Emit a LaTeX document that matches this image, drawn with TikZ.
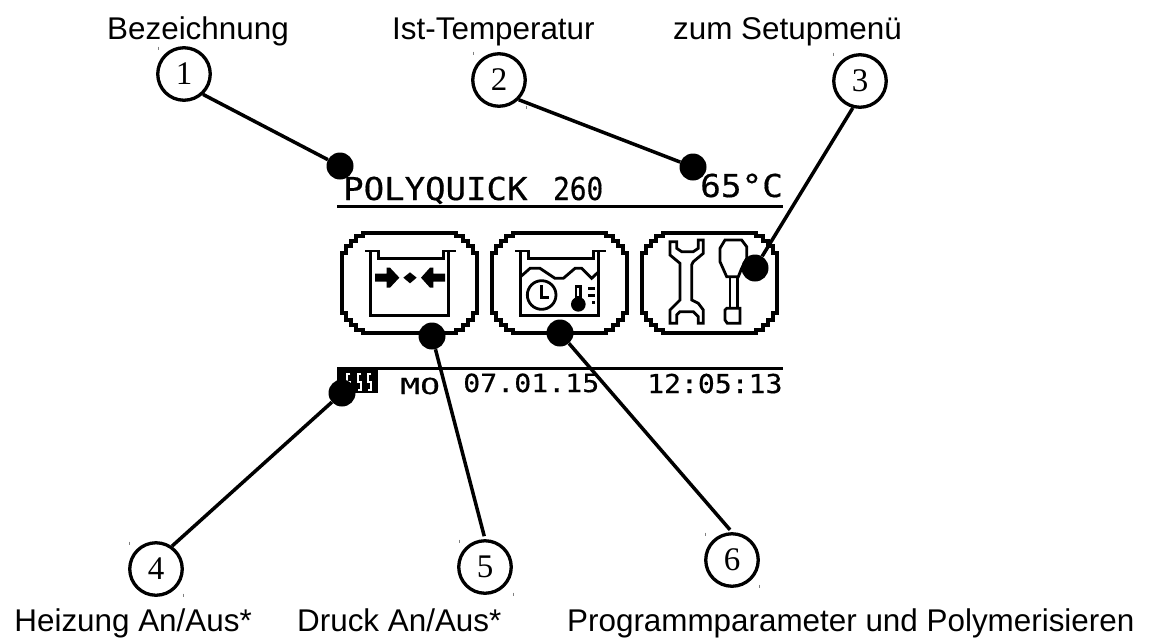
\documentclass[tikz,border=0pt]{standalone}
\usepackage{fontspec}
\setmainfont{Liberation Sans}
\newfontfamily\numfont{Liberation Serif}
\newfontfamily\lcdfont[FakeBold=0.5]{DejaVu Sans Mono}
\newcommand\lcdsize[1]{\lcdfont\fontsize{#1}{#1}\selectfont}
\tikzset{
  caption/.style={font=\fontsize{31.4}{36}\selectfont,inner sep=0pt,anchor=base west,text=black},
  numcircle/.style={circle,draw=black,line width=3.3pt,minimum size=52.5pt,inner sep=0pt,font=\numfont\fontsize{33}{36}\selectfont,fill=white},
  blackdot/.style={circle,fill=black,minimum size=27pt,inner sep=0pt},
  leader/.style={line width=3.5pt,draw=black},
  lcdtext/.style={inner sep=0pt,anchor=base west,text=black},
  lcdline/.style={line width=3pt,draw=black,line join=miter},
  iconline/.style={line width=2.8pt,draw=black,line join=miter},
  ticksign/.style={line width=0.7pt,draw=gray},
}
\newcommand\lcdframe[1]{%
  \draw[lcdline,line width=3.6pt,shift={(#1,233)}]
    (21,0)--(114,0)--(114,3)--(121,3)--(121,8)--(126,8)--(126,13)--(131,13)--(131,20)--(135,20)
    --(135,80)--(131,80)--(131,87)--(126,87)--(126,92)--(121,92)--(121,97)--(114,97)--(114,100)
    --(21,100)--(21,97)--(14,97)--(14,92)--(9,92)--(9,87)--(4,87)--(4,80)--(0,80)
    --(0,20)--(4,20)--(4,13)--(9,13)--(9,8)--(14,8)--(14,3)--(21,3)--cycle;}
\newcommand\basin{%
  \draw[iconline] (105,78)--(145,78)--(145,100)--(340,100)--(340,78)--(378,78);
  \draw[iconline] (122,78)--(122,272)--(356,272)--(356,78);}
\begin{document}
\begin{tikzpicture}[x=1pt,y=-1pt]
\useasboundingbox (0,0) rectangle (1152,638);
\fill[white] (0,0) rectangle (1152,638);

% captions
\node[caption] (tBez) at (107,39) {Bezeichnung};
\node[caption] (tIst) at (392,39) {Ist-Temperatur};
\node[caption] (tSetup) at (673,39) {zum Setupmenü};
\node[caption,anchor=base east] (tHeiz) at (252,631) {Heizung An/Aus*};
\node[caption] (tDruck) at (297,631) {Druck An/Aus*};
\node[caption] (tProg) at (567,631) {Programmparameter und Polymerisieren};

% LCD text
\node[lcdtext,xscale=1.08,font=\lcdsize{31.5}] (lPoly) at (343,200) {POLYQUICK};
\node[lcdtext,xscale=0.88,font=\lcdsize{31.5}] (l260) at (553,200) {260};
\node[lcdtext,xscale=1.09,font=\lcdsize{31.5}] (l65) at (700,197) {65°C};
\node[lcdtext,xscale=1.5,font=\lcdsize{22}] (lMo) at (400,394) {MO};
\node[lcdtext,xscale=1.13,font=\lcdsize{25}] (lDate) at (463,392) {07.01.15};
\node[lcdtext,xscale=1.08,font=\lcdsize{26}] (lTime) at (647,393) {12:05:13};

% LCD rules
\draw[lcdline] (337,206)--(783,206);
\draw[lcdline] (337,368)--(783,368);

% heating symbol
\fill[black] (337,367) rectangle (378,393);
\begin{scope}[shift={(330,355)},scale=1/3]
\foreach \X in {45,78,108}{
  \draw[white,line width=2pt] (\X+16,58)--(\X+5,58)--(\X+5,82)--(\X+16,82)--(\X+16,105)--(\X+5,105);
}
\end{scope}

% icon frames
\lcdframe{342}
\lcdframe{492}
\lcdframe{642}

% icon 1
\begin{scope}[shift={(330,225)},scale=1/3]
\basin
\fill[black] (135,146)--(170,146)--(170,128)--(180,128)--(208,158)--(180,188)--(170,188)--(170,170)--(135,170)--cycle;
\fill[black] (240,142)--(260,158)--(240,175)--(220,158)--cycle;
\fill[black] (345,146)--(310,146)--(310,128)--(300,128)--(273,158)--(300,188)--(310,188)--(310,170)--(345,170)--cycle;
\end{scope}

% icon 2
\begin{scope}[shift={(480,225)},scale=1/3]
\basin
\draw[iconline] (122,155)--(150,130)--(180,130)--(225,160)--(250,160)--(285,130)--(305,130)--(335,160)--(356,140);
\draw[iconline] (185,210) circle[radius=43];
\draw[iconline] (185,180)--(185,218)--(207,218);
\fill[black] (295,238) circle[radius=22];
\fill[black] (284,180) rectangle (306,240);
\fill[white] (292,190) rectangle (298,212);
\fill[black] (325,186) rectangle (346,196);
\fill[black] (325,206) rectangle (346,215);
\fill[black] (335,228) rectangle (346,238);
\end{scope}

% icon 3
\begin{scope}[shift={(630,225)},scale=1/3]
\draw[iconline] (120,50)--(140,50)--(140,70)--(155,80)--(190,80)--(205,70)--(205,45)--(220,45)--(220,85)--(190,110)--(185,120)--(185,225)--(205,235)--(220,255)--(220,295)--(205,295)--(205,275)--(190,260)--(150,260)--(140,270)--(140,295)--(120,295)--(120,255)--(150,225)--(150,115)--(120,90)--cycle;
\draw[iconline] (285,45)--(335,45)--(350,65)--(350,100)--(335,130)--(325,155)--(290,155)--(270,110)--(270,70)--cycle;
\draw[iconline] (300,155)--(300,250);
\draw[iconline] (323,155)--(323,250);
\draw[iconline] (290,250)--(330,250)--(330,295)--(292,295)--(285,285)--(285,255)--cycle;
\end{scope}

% dots
\node[blackdot] (d1) at (340,166) {};
\node[blackdot] (d2) at (693,167) {};
\node[blackdot] (d3) at (755,268) {};
\node[blackdot] (d4) at (342,393) {};
\node[blackdot] (d5) at (432,336) {};
\node[blackdot] (d6) at (560,333) {};

% numbered circles
\node[numcircle] (c1) at (184,74) {1};
\node[numcircle] (c2) at (499,80) {2};
\node[numcircle] (c3) at (860,81) {3};
\node[numcircle] (c4) at (156,569) {4};
\node[numcircle] (c5) at (485,567) {5};
\node[numcircle] (c6) at (732,560) {6};

% connectors
\draw[leader] (c1.-47) -- (d1);
\draw[leader] (c2.-45) -- (d2);
\draw[leader] (c3.-105) -- (d3);
\draw[leader] (c4.55) -- (d4);
\draw[leader,shorten >=3pt] (d5) -- (c5.north);
\draw[leader,shorten >=3pt] (d6) -- (c6.north);

% small marks at the corners of the circles
\foreach \tx/\ty in {158/48,473/53,526/107,833/54,129/543,183/595,459/541,513/594,705/534,759/586}{
  \draw[ticksign] (\tx,\ty-1.5)--(\tx,\ty+1.5);
}
\end{tikzpicture}
\end{document}
